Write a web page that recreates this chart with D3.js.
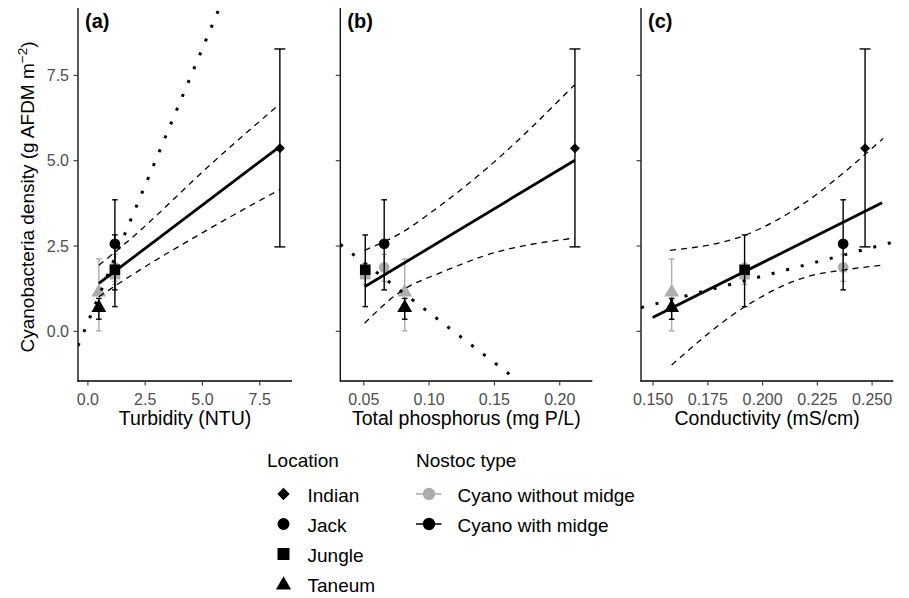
<!DOCTYPE html>
<html>
<head>
<meta charset="utf-8">
<script src="https://cdn.jsdelivr.net/npm/d3@7"></script>
<style>
  body { margin: 0; background: #fff; }
  text { font-family: "Liberation Sans", Arial, sans-serif; }
</style>
</head>
<body>
<script>
// locations and their x values in each panel
let locations = ["Indian", "Jack", "Jungle", "Taneum"];
let turbidity = [8.4, 1.2, 1.2, 0.5];
let phosphorus = [0.212, 0.066, 0.0515, 0.0817];
let conductivity = [0.247, 0.237, 0.192, 0.1587];

// cyanobacteria density, mean and error bar ends
let densityWith = [5.35, 2.55, 1.79, 0.68];
let upperWith = [8.26, 3.84, 2.81, 0.95];
let lowerWith = [2.46, 1.2, 0.71, 0.34];
let densityWithout = [null, 1.86, 1.66, 1.13];
let upperWithout = [null, 2.24, 1.98, 2.11];
let lowerWithout = [null, 1.45, 1.36, 0.0];

// fitted lines
let fitTurbidity = [[0.5, 1.39], [8.4, 5.4]];
let ciUpTurbidity = [[0.5, 1.92], [1.86, 2.68], [5.5, 4.95], [8.4, 6.65]];
let ciLoTurbidity = [[0.5, 1.0], [1.86, 1.6], [5.5, 3.06], [8.4, 4.14]];
let dotTurbidity = [[-0.41, -0.44], [5.76, 9.46]];

let fitPhosphorus = [[0.051, 1.29], [0.212, 5.0]];
let ciUpPhosphorus = [[0.051, 2.36], [0.078, 2.85], [0.111, 3.73], [0.1445, 4.76], [0.212, 7.22]];
let ciLoPhosphorus = [[0.051, 0.22], [0.078, 1.14], [0.111, 1.73], [0.1445, 2.22], [0.212, 2.72]];
let dotPhosphorus = [[0.0324, 2.53], [0.1687, -1.47]];

let fitConductivity = [[0.150, 0.39], [0.2548, 3.75]];
let ciUpConductivity = [[0.158, 2.36], [0.192, 2.8], [0.2202, 3.78], [0.237, 4.62], [0.2553, 5.64]];
let ciLoConductivity = [[0.1587, -1.0], [0.192, 0.7], [0.2202, 1.58], [0.237, 1.78], [0.2561, 1.93]];
let dotConductivity = [[0.1447, 0.68], [0.2599, 2.6]];

// axes
let yDomain = [-1.47, 9.46];
let yTicks = [0, 2.5, 5, 7.5];
let turbidityTicks = [0, 2.5, 5, 7.5];
let phosphorusTicks = [0.05, 0.10, 0.15, 0.20];
let conductivityTicks = [0.150, 0.175, 0.200, 0.225, 0.250];

let nostocTypes = ["Cyano without midge", "Cyano with midge"];

let grey = "#adadad";
let plotTop = 8, plotBottom = 381;

let svg = d3.select("body").append("svg").attr("width", 909).attr("height", 598);

let y = d3.scaleLinear().domain(yDomain).range([plotBottom, plotTop]);

let shapes = {
  Indian: d3.symbol().type(d3.symbolSquare).size(50),
  Jack: d3.symbol().type(d3.symbolCircle).size(90),
  Jungle: d3.symbol().type(d3.symbolSquare).size(112),
  Taneum: d3.symbol().type(d3.symbolTriangle).size(96)
};

let panels = [
  {tag: "(a)", title: "Turbidity (NTU)", left: 78, right: 292, domain: [-0.41, 8.93], xs: turbidity,
   ticks: turbidityTicks, fmt: d3.format(".1f"), fit: fitTurbidity, up: ciUpTurbidity, lo: ciLoTurbidity, dot: dotTurbidity},
  {tag: "(b)", title: "Total phosphorus (mg P/L)", left: 340.3, right: 592.3, domain: [0.0324, 0.2253], xs: phosphorus,
   ticks: phosphorusTicks, fmt: d3.format(".2f"), fit: fitPhosphorus, up: ciUpPhosphorus, lo: ciLoPhosphorus, dot: dotPhosphorus},
  {tag: "(c)", title: "Conductivity (mS/cm)", left: 641, right: 893.3, domain: [0.1447, 0.2599], xs: conductivity,
   ticks: conductivityTicks, fmt: d3.format(".3f"), fit: fitConductivity, up: ciUpConductivity, lo: ciLoConductivity, dot: dotConductivity}
];

panels.forEach((p, i) => {
  let x = d3.scaleLinear().domain(p.domain).range([p.left, p.right]);
  let g = svg.append("g");

  svg.append("clipPath").attr("id", "clip" + i)
    .append("rect").attr("x", p.left).attr("y", plotTop).attr("width", p.right - p.left).attr("height", plotBottom - plotTop);

  // error bars + points: without midge (grey) first, then with midge (black)
  let groups = [
    {mean: densityWithout, hi: upperWithout, lo: lowerWithout, col: grey},
    {mean: densityWith, hi: upperWith, lo: lowerWith, col: "#000"}
  ];
  groups.forEach(s => {
    locations.forEach((loc, j) => {
      if (s.mean[j] == null) return;
      let cx = x(p.xs[j]);
      let cap = loc == "Indian" ? 5.5 : 2.8;
      let bar = g.append("g").attr("stroke", s.col).attr("stroke-width", 1.4);
      bar.append("line").attr("x1", cx).attr("x2", cx).attr("y1", y(s.hi[j])).attr("y2", y(s.lo[j]));
      bar.append("line").attr("x1", cx - cap).attr("x2", cx + cap).attr("y1", y(s.hi[j])).attr("y2", y(s.hi[j]));
      bar.append("line").attr("x1", cx - cap).attr("x2", cx + cap).attr("y1", y(s.lo[j])).attr("y2", y(s.lo[j]));
      g.append("path").attr("d", shapes[loc]())
        .attr("transform", "translate(" + cx + "," + y(s.mean[j]) + ")" + (loc == "Indian" ? " rotate(45)" : ""))
        .attr("fill", s.col);
    });
  });

  // fitted lines
  let lines = g.append("g").attr("clip-path", "url(#clip" + i + ")").attr("fill", "none").attr("stroke", "#000");
  let line = d3.line().x(d => x(d[0])).y(d => y(d[1]));
  let curve = d3.line().x(d => x(d[0])).y(d => y(d[1])).curve(d3.curveMonotoneX);
  lines.append("path").attr("d", curve(p.up)).attr("stroke-width", 1.3).attr("stroke-dasharray", "6,5");
  lines.append("path").attr("d", curve(p.lo)).attr("stroke-width", 1.3).attr("stroke-dasharray", "6,5");
  lines.append("path").attr("d", line(p.fit)).attr("stroke-width", 2.8);
  lines.append("path").attr("d", line(p.dot)).attr("stroke-width", 3).attr("stroke-dasharray", "3,12");

  // axes
  let xAxis = g.append("g").attr("transform", "translate(0," + plotBottom + ")")
    .call(d3.axisBottom(x).tickValues(p.ticks).tickFormat(p.fmt).tickSize(4.5).tickSizeOuter(0));
  let yAxis = g.append("g").attr("transform", "translate(" + p.left + ",0)")
    .call(d3.axisLeft(y).tickValues(yTicks).tickFormat(i == 0 ? d3.format(".1f") : "").tickSize(4.5).tickSizeOuter(0));
  [xAxis, yAxis].forEach(a => {
    a.select(".domain").attr("stroke", "#000").attr("stroke-width", 1.3);
    a.selectAll(".tick line").attr("stroke", "#333").attr("stroke-width", 1.1);
    a.selectAll(".tick text").attr("fill", "#4d4d4d").style("font-size", "16px")
      .style("font-family", "Liberation Sans, Arial, sans-serif");
  });
  xAxis.selectAll(".tick text").attr("dy", null).attr("y", 24);
  yAxis.selectAll(".tick text").attr("x", -9).attr("dy", "0.35em");
  // extend the axis lines into the corner
  xAxis.select(".domain").attr("d", "M" + (p.left - 0.6) + ",0H" + p.right);
  yAxis.select(".domain").attr("d", "M0," + plotTop + "V" + (plotBottom + 0.6));

  g.append("text").attr("x", (p.left + p.right) / 2).attr("y", 425)
    .attr("text-anchor", "middle").style("font-size", "19.5px").text(p.title);
  g.append("text").attr("x", p.left + 7).attr("y", 28)
    .style("font-size", "20px").style("font-weight", "bold").text(p.tag);
});

// y-axis title
let yt = svg.append("text").attr("transform", "translate(33.5,197) rotate(-90)")
  .attr("text-anchor", "middle").style("font-size", "19px");
yt.append("tspan").text("Cyanobacteria density (g AFDM m");
yt.append("tspan").attr("dy", -7).style("font-size", "13.5px").text("\u22122");
yt.append("tspan").attr("dy", 7).text(")");

// legend: Location
let leg = svg.append("g");
leg.append("text").attr("x", 267).attr("y", 466.5).style("font-size", "19px").text("Location");
let legShapes = {
  Indian: d3.symbol().type(d3.symbolSquare).size(76),
  Jack: d3.symbol().type(d3.symbolCircle).size(113),
  Jungle: d3.symbol().type(d3.symbolSquare).size(144),
  Taneum: d3.symbol().type(d3.symbolTriangle).size(100)
};
locations.forEach((loc, j) => {
  let cy = 494 + j * 30;
  leg.append("path").attr("d", legShapes[loc]())
    .attr("transform", "translate(283.5," + (cy + (loc == "Taneum" ? 1 : 0)) + ")" + (loc == "Indian" ? " rotate(45)" : ""));
  leg.append("text").attr("x", 307.5).attr("y", cy + 7.5).style("font-size", "19px").text(loc);
});

// legend: Nostoc type
leg.append("text").attr("x", 416).attr("y", 466.5).style("font-size", "19px").text("Nostoc type");
nostocTypes.forEach((t, j) => {
  let cy = 494 + j * 30;
  let col = j == 0 ? grey : "#000";
  leg.append("line").attr("x1", 416).attr("x2", 441.5).attr("y1", cy).attr("y2", cy)
    .attr("stroke", col).attr("stroke-width", 1.5);
  leg.append("circle").attr("cx", 429).attr("cy", cy).attr("r", 6.2).attr("fill", col);
  leg.append("text").attr("x", 457.5).attr("y", cy + 7.5).style("font-size", "19px").text(t);
});
</script>
</body>
</html>
